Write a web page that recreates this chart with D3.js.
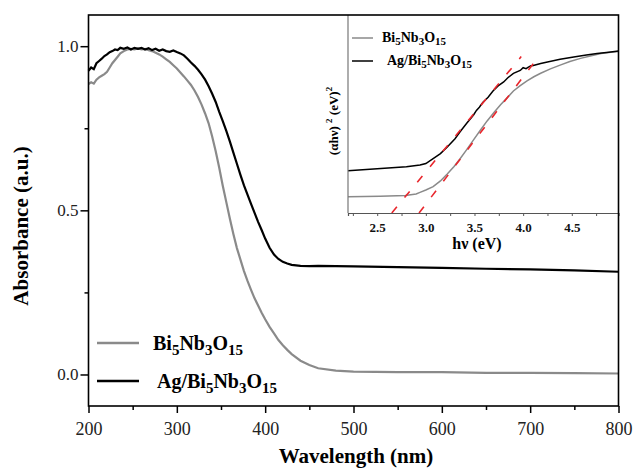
<!DOCTYPE html>
<html><head><meta charset="utf-8">
<script src="https://cdn.jsdelivr.net/npm/d3@7"></script>
<style>body{margin:0;background:#fff}svg{display:block}text{font-family:"Liberation Serif","Times New Roman",serif}</style>
</head><body><svg id="c" width="636" height="468"></svg>
<script>
// ---------- data ----------
const seriesNames = ["Bi5Nb3O15", "Ag/Bi5Nb3O15"];
const grayWl = [200,203,206,209,212,215,218,221,224,227,230,233,236,240,244,248,252,256,260,264,268,272,276,280,284,288,292,296,300,304,308,312,316,320,324,328,332,336,340,344,348,352,356,360,364,368,372,376,380,384,388,392,396,400,405,410,415,420,425,430,440,450,460,480,500,550,600,650,700,750,800];
const grayAbs = [0.885,0.89,0.886,0.898,0.905,0.91,0.915,0.922,0.935,0.948,0.958,0.968,0.978,0.985,0.99,0.992,0.99,0.993,0.99,0.992,0.988,0.985,0.98,0.975,0.968,0.96,0.952,0.942,0.932,0.92,0.908,0.895,0.882,0.865,0.845,0.822,0.795,0.765,0.725,0.68,0.63,0.575,0.525,0.475,0.428,0.385,0.35,0.315,0.285,0.258,0.232,0.21,0.188,0.168,0.145,0.125,0.105,0.089,0.075,0.062,0.042,0.029,0.019,0.012,0.009,0.007,0.007,0.005,0.005,0.004,0.003];
const agWl = [200,203,206,209,212,215,218,221,224,227,230,233,236,240,244,248,252,256,260,264,268,272,276,280,284,288,292,296,300,304,308,312,316,320,324,328,332,336,340,344,348,352,356,360,364,368,372,376,380,384,388,392,396,400,405,410,415,420,425,430,440,450,460,480,500,550,600,650,700,750,800];
const agAbs = [0.925,0.935,0.93,0.948,0.955,0.962,0.97,0.975,0.982,0.985,0.99,0.988,0.995,0.992,0.996,0.99,0.995,0.992,0.995,0.99,0.994,0.988,0.992,0.986,0.99,0.985,0.983,0.987,0.982,0.978,0.972,0.962,0.95,0.94,0.928,0.914,0.898,0.878,0.855,0.83,0.8,0.772,0.742,0.71,0.676,0.642,0.608,0.576,0.548,0.52,0.492,0.465,0.44,0.414,0.386,0.365,0.352,0.343,0.338,0.334,0.331,0.33,0.331,0.33,0.329,0.327,0.325,0.322,0.32,0.317,0.313];
const xTicks = [200,300,400,500,600,700,800];
const yTicks = [0, 0.5, 1.0];
const yTickLabels = ["0.0","0.5","1.0"];

// inset (Tauc plot)
const insGrayE = [2.2,2.53,2.79,2.9,2.94,3.0,3.075,3.15,3.22,3.29,3.35,3.42,3.49,3.56,3.63,3.7,3.77,3.84,3.9,3.97,4.04,4.11,4.18,4.28,4.38,4.48,4.59,4.7,4.8,4.9,4.98];
const insGrayV = [8.2,8.5,8.8,9.6,10.4,11.6,13.3,16.2,19.7,23.5,27.3,32.0,36.9,41.8,46.5,50.8,54.8,58.4,61.6,64.3,66.7,68.8,70.6,72.8,74.7,76.5,78.1,79.4,80.6,81.2,81.6];
const insAgE = [2.2,2.5,2.8,2.94,3.0,3.075,3.15,3.22,3.3,3.35,3.42,3.49,3.52,3.55,3.57,3.59,3.64,3.69,3.75,3.8,3.84,3.9,3.97,4.0,4.03,4.05,4.08,4.105,4.18,4.25,4.38,4.52,4.65,4.76,4.88,4.98];
const insAgV = [21.4,22.3,23.3,24.2,25.0,27.5,30.0,33.3,37.5,40.9,45.3,49.5,51.8,53.4,54.8,56.1,58.5,61.6,64.5,66.2,68.2,70.5,72.0,73.4,72.9,73.6,74.4,74.5,75.5,76.3,77.6,78.8,79.8,80.6,81.2,81.8];
const fitA = [[2.65,0],[3.98,79]];
const fitB = [[2.93,0],[4.16,79]];
const insXTicks = [2.5,3.0,3.5,4.0,4.5];

// ---------- drawing ----------
const svg = d3.select("#c");
const L = 88.5, R = 618.5, T = 15, B = 406;
const x = d3.scaleLinear().domain([200,800]).range([L,R]);
const y = d3.scaleLinear().domain([-0.096,1.095]).range([B,T]);

const line = d3.line().x(d=>x(d[0])).y(d=>y(d[1]));
const grayData = grayWl.map((w,i)=>[w,grayAbs[i]]);
const agData = agWl.map((w,i)=>[w,agAbs[i]]);

svg.append("path").attr("d",line(grayData)).attr("fill","none").attr("stroke","#8a8a8a").attr("stroke-width",2.2);
svg.append("path").attr("d",line(agData)).attr("fill","none").attr("stroke","#000").attr("stroke-width",2.2);

// axes
const gx = svg.append("g").attr("transform",`translate(0,${B})`)
  .call(d3.axisBottom(x).tickValues(xTicks).tickSize(7).tickPadding(9).tickFormat(d3.format("d")));
gx.select(".domain").remove();
gx.selectAll("line").attr("stroke-width",1.5);
gx.selectAll("text").attr("font-size",18).attr("font-family","Liberation Serif, serif").attr("fill","#222");
const gxm = svg.append("g").attr("transform",`translate(0,${B})`)
  .call(d3.axisBottom(x).tickValues([250,350,450,550,650,750]).tickSize(4).tickFormat(""));
gxm.select(".domain").remove(); gxm.selectAll("line").attr("stroke-width",1.5);

const gy = svg.append("g").attr("transform",`translate(${L},0)`)
  .call(d3.axisLeft(y).tickValues(yTicks).tickSize(8).tickPadding(2).tickFormat((d,i)=>yTickLabels[i]));
gy.select(".domain").remove();
gy.selectAll("line").attr("stroke-width",1.5);
gy.selectAll("text").attr("font-size",17).attr("font-family","Liberation Serif, serif").attr("fill","#222");
const gym = svg.append("g").attr("transform",`translate(${L},0)`)
  .call(d3.axisLeft(y).tickValues([0.25,0.75]).tickSize(4).tickFormat(""));
gym.select(".domain").remove(); gym.selectAll("line").attr("stroke-width",1.5);

svg.append("text").attr("x",356).attr("y",463).attr("text-anchor","middle")
  .attr("font-size",21).attr("font-weight","bold").text("Wavelength (nm)");
svg.append("text").attr("transform","translate(28,226) rotate(-90)").attr("text-anchor","middle")
  .attr("font-size",21).attr("font-weight","bold").text("Absorbance (a.u.)");

// chemical formula helper
function chem(t, name, size, subSize, subDy){
  const parts = name.match(/[A-Za-z\/]+|\d+/g);
  let down = false;
  parts.forEach(p=>{
    const isNum = /^\d+$/.test(p);
    const ts = t.append("tspan").text(p).attr("font-size", isNum?subSize:size);
    if(isNum && !down){ ts.attr("dy",subDy); down = true; }
    else if(!isNum && down){ ts.attr("dy",-subDy); down = false; }
  });
}

// main legend
const legColors = ["#8a8a8a","#000"];
const legY = [343, 381];
const legTX = [153, 157];
seriesNames.forEach((n,i)=>{
  svg.append("line").attr("x1",97).attr("x2",139).attr("y1",legY[i]).attr("y2",legY[i])
    .attr("stroke",legColors[i]).attr("stroke-width",2.5);
  const t = svg.append("text").attr("x",legTX[i]).attr("y",legY[i]+7).attr("font-weight","bold");
  chem(t, n, 20, 15, 5);
});

// ---------- inset ----------
const iL = 348, iR = 618.5, iT = 15, iB = 213;
const xi = d3.scaleLinear().domain([2.2,4.98]).range([iL,iR]);
const yi = d3.scaleLinear().domain([0,100]).range([iB,iT]);
svg.append("rect").attr("x",iL).attr("y",iT).attr("width",iR-iL).attr("height",iB-iT).attr("fill","#fff");
const iline = d3.line().x(d=>xi(d[0])).y(d=>yi(d[1]));
svg.append("path").attr("d",iline(insGrayE.map((e,i)=>[e,insGrayV[i]]))).attr("fill","none").attr("stroke","#8a8a8a").attr("stroke-width",1.5);
svg.append("path").attr("d",iline(insAgE.map((e,i)=>[e,insAgV[i]]))).attr("fill","none").attr("stroke","#000").attr("stroke-width",1.5);
[fitA,fitB].forEach(f=>{
  svg.append("path").attr("d",iline(f)).attr("fill","none").attr("stroke","#e8262c")
    .attr("stroke-width",1.6).attr("stroke-dasharray","8,12");
});
svg.append("line").attr("x1",iL).attr("x2",iL).attr("y1",iT).attr("y2",iB).attr("stroke","#777").attr("stroke-width",1.2);
const gi = svg.append("g").attr("transform",`translate(0,${iB})`)
  .call(d3.axisBottom(xi).tickValues(insXTicks).tickSize(3).tickPadding(7).tickFormat(d3.format(".1f")));
gi.select(".domain").attr("stroke","#555").attr("stroke-width",1.2);
gi.selectAll("line").attr("stroke","#555");
gi.selectAll("text").attr("font-size",13).attr("font-weight","bold").attr("font-family","Liberation Serif, serif").attr("fill","#111");
const gim = svg.append("g").attr("transform",`translate(0,${iB})`)
  .call(d3.axisBottom(xi).tickValues([2.25,2.75,3.25,3.75,4.25,4.75]).tickSize(3).tickFormat(""));
gim.select(".domain").remove(); gim.selectAll("line").attr("stroke","#555");

svg.append("text").attr("x",477).attr("y",249).attr("text-anchor","middle")
  .attr("font-size",16).attr("font-weight","bold").text("hν (eV)");
const yl = svg.append("text").attr("transform","translate(338,121) rotate(-90)").attr("text-anchor","middle")
  .attr("font-size",13).attr("font-weight","bold");
yl.append("tspan").text("(αhν) ");
yl.append("tspan").text("2").attr("font-size",9).attr("dy",-6);
yl.append("tspan").text(" (eV)").attr("dy",6);
yl.append("tspan").text("2").attr("font-size",9).attr("dy",-6);

// inset legend
const iLegY = [38, 61];
const iLegTX = [382, 387];
seriesNames.forEach((n,i)=>{
  svg.append("line").attr("x1",352).attr("x2",373).attr("y1",iLegY[i]).attr("y2",iLegY[i])
    .attr("stroke",legColors[i]).attr("stroke-width",1.5);
  const t = svg.append("text").attr("x",iLegTX[i]).attr("y",iLegY[i]+4).attr("font-weight","bold");
  chem(t, n, 14, 11, 3);
});

// frame
svg.append("rect").attr("x",L).attr("y",T).attr("width",R-L).attr("height",B-T)
  .attr("fill","none").attr("stroke","#000").attr("stroke-width",1.6);
</script></body></html>
